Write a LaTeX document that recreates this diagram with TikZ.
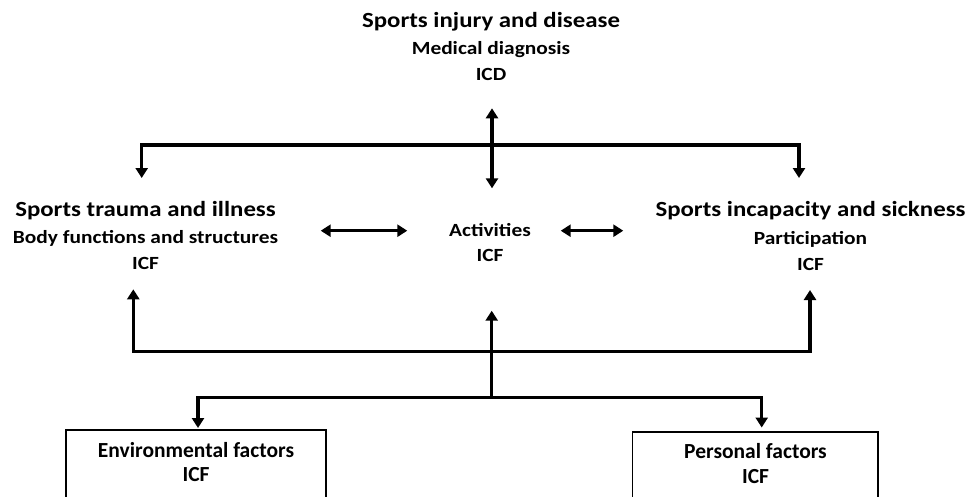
\documentclass[tikz,border=0pt]{standalone}
\usepackage{fontspec}
\usepackage{tikz}
\usepackage{xcolor}
\usetikzlibrary{arrows.meta}
\setmainfont{Carlito}
\newcommand{\widetext}[1]{\scalebox{1.15}[1]{#1}}

\begin{document}
\begin{tikzpicture}[>={Triangle[length=10pt,width=12pt]}, x=1pt, y=-1pt, line width=3.3pt,
    headtext/.style={anchor=base, inner sep=0pt, font=\fontsize{21.6}{25}\selectfont\bfseries},
    subtext/.style={anchor=base, inner sep=0pt, font=\fontsize{18.6}{22}\selectfont\bfseries},
    boxtext/.style={anchor=base, inner sep=0pt, font=\fontsize{21.5}{25}\selectfont\bfseries}]
        \useasboundingbox (0,0) rectangle (968,496);
        % texts
        \node[headtext] (1) at (491, 27.3) {\widetext{Sports injury and disease}};
        \node[subtext] (2) at (491, 54) {\widetext{Medical diagnosis}};
        \node[subtext] (3) at (491, 80) {\widetext{ICD}};
        \node[headtext] (4) at (145.5, 216) {\widetext{Sports trauma and illness}};
        \node[subtext] (5) at (145.5, 243.3) {\widetext{Body functions and structures}};
        \node[subtext] (6) at (145.5, 269.5) {\widetext{ICF}};
        \node[subtext] (7) at (490, 236) {\widetext{Activities}};
        \node[subtext] (8) at (490, 261) {\widetext{ICF}};
        \node[headtext] (9) at (810.5, 216.5) {\widetext{Sports incapacity and sickness}};
        \node[subtext] (10) at (810.5, 244) {\widetext{Participation}};
        \node[subtext] (11) at (810.5, 270) {\widetext{ICF}};
        \node[boxtext] (12) at (196, 457) {Environmental factors};
        \node[boxtext] (13) at (196, 481.7) {ICF};
        \node[boxtext] (14) at (755.5, 458) {Personal factors};
        \node[boxtext] (15) at (755.5, 483) {ICF};
        % junctions
		\node (20) at (141.7, 178) {};
		\node (21) at (141.7, 145) {};
		\node (22) at (799, 145) {};
		\node (23) at (799, 178) {};
		\node (24) at (492, 108.3) {};
		\node (25) at (492, 188.3) {};
		\node (26) at (320.7, 230.7) {};
		\node (27) at (407.3, 230.7) {};
		\node (28) at (560.7, 230.7) {};
		\node (29) at (623.3, 230.7) {};
		\node (30) at (133.3, 289.3) {};
		\node (31) at (133.3, 351.7) {};
		\node (32) at (810, 351.7) {};
		\node (33) at (810, 290) {};
		\node (34) at (491.7, 310.7) {};
		\node (35) at (491.7, 397.3) {};
		\node (36) at (198, 428) {};
		\node (37) at (198, 397.3) {};
		\node (38) at (761.7, 397.3) {};
		\node (39) at (761.7, 427.5) {};
		\draw[<->] (20.center) to (21.center) to (22.center) to (23.center);
		\draw[<->] (24.center) to (25.center);
		\draw[<->] (26.center) to (27.center);
		\draw[<->] (28.center) to (29.center);
		\draw[<->] (30.center) to (31.center) to (32.center) to (33.center);
		\draw[->] (35.center) to (34.center);
		\draw[<->] (36.center) to (37.center) to (38.center) to (39.center);
        % boxes, open at the bottom
        \draw[line width=1.3pt] (66, 497) -- (66, 430) -- (326, 430) -- (326, 497);
        \draw[line width=1.3pt] (632.7, 497) -- (632.7, 432) -- (878, 432) -- (878, 497);
    \end{tikzpicture}
\end{document}
